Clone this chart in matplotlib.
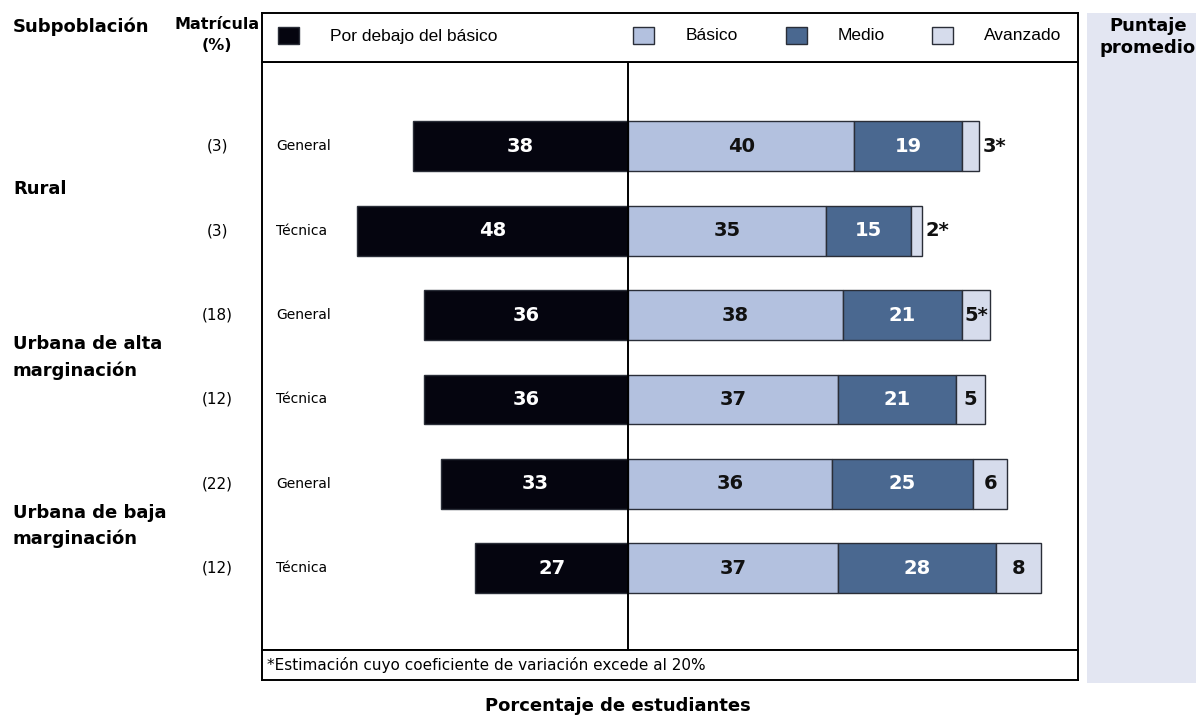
import numpy as np
import matplotlib.pyplot as plt
from matplotlib.patches import Rectangle
from matplotlib.transforms import blended_transform_factory

# Data
tipos = ["General", "Técnica", "General", "Técnica", "General", "Técnica"]
matricula = ["(3)", "(3)", "(18)", "(12)", "(22)", "(12)"]
grupos = ["Rural", "Urbana de alta\nmarginación", "Urbana de baja\nmarginación"]
debajo = [38, 48, 36, 36, 33, 27]
basico = [40, 35, 38, 37, 36, 37]
medio = [19, 15, 21, 21, 25, 28]
avanzado = [3, 2, 5, 5, 6, 8]
avanzado_lbl = ["3*", "2*", "5*", "5", "6", "8"]
puntaje = [485, 464, 495, 494, 507, 520]

c_debajo = "#05050f"
c_basico = "#b3c1df"
c_medio = "#4a6890"
c_avanzado = "#d6dcec"
edge = "#2a2e38"

W, H = 1196, 716
fig = plt.figure(figsize=(W / 100, H / 100), dpi=100)

def fx(x):
    return x / W

def fy(y):
    return 1 - y / H

# right panel background
fig.patches.append(Rectangle((fx(1087), fy(683)), fx(1196) - fx(1087), fy(13) - fy(683),
                             transform=fig.transFigure, facecolor="#e3e6f2", edgecolor="none", zorder=0))

ax = fig.add_axes([fx(262), fy(650), fx(1078) - fx(262), fy(62) - fy(650)])
y = np.arange(len(debajo))
h = 0.59
deb = np.array(debajo)
bas = np.array(basico)
med = np.array(medio)
ava = np.array(avanzado)

ax.barh(y, -deb, height=h, color=c_debajo, edgecolor=edge, linewidth=1)
ax.barh(y, bas, height=h, color=c_basico, edgecolor=edge, linewidth=1)
ax.barh(y, med, left=bas, height=h, color=c_medio, edgecolor=edge, linewidth=1)
ax.barh(y, ava, left=bas + med, height=h, color=c_avanzado, edgecolor=edge, linewidth=1)
ax.axvline(0, color="black", lw=1.4, zorder=5)

lab = dict(fontsize=14, fontweight="bold", va="center", ha="center")
for i in range(len(y)):
    ax.text(-deb[i] / 2, y[i], str(deb[i]), color="white", **lab)
    ax.text(bas[i] / 2, y[i], str(bas[i]), color="#111111", **lab)
    ax.text(bas[i] + med[i] / 2, y[i], str(med[i]), color="white", **lab)
    end = bas[i] + med[i] + ava[i]
    if ava[i] < 4:
        ax.text(end + 0.6, y[i], avanzado_lbl[i], color="#111111", fontsize=14,
                fontweight="bold", va="center", ha="left")
    else:
        ax.text(end - ava[i] / 2, y[i], avanzado_lbl[i], color="#111111", **lab)
    ax.text(-62.2, y[i], tipos[i], fontsize=10, va="center", ha="left")

ax.set_xlim(-64.7, 79.5)
ax.set_ylim(5.97, -1.0)
ax.set_xticks([])
ax.set_yticks([])
for s in ax.spines.values():
    s.set_linewidth(1.4)

# legend box
axl = fig.add_axes([fx(262), fy(62), fx(1078) - fx(262), fy(13) - fy(62)])
axl.set_xlim(262, 1078)
axl.set_ylim(62, 13)
axl.set_xticks([])
axl.set_yticks([])
for s in axl.spines.values():
    s.set_linewidth(1.4)
leg_items = [("Por debajo del básico", c_debajo, 278, 330),
             ("Básico", c_basico, 633, 686),
             ("Medio", c_medio, 786, 838),
             ("Avanzado", c_avanzado, 932, 984)]
for name, col, xs, xt in leg_items:
    axl.add_patch(Rectangle((xs, 27), 21, 17, facecolor=col, edgecolor=edge, lw=1))
    axl.text(xt, 36, name, fontsize=12.5, family="Liberation Sans", va="center", ha="left")

# footnote box
axf = fig.add_axes([fx(262), fy(680), fx(1078) - fx(262), fy(650) - fy(680)])
axf.set_xticks([])
axf.set_yticks([])
for s in axf.spines.values():
    s.set_linewidth(1.4)
axf.text(0.006, 0.5, "*Estimación cuyo coeficiente de variación excede al 20%",
         fontsize=11, va="center", ha="left", transform=axf.transAxes)

# headers
fig.text(fx(13), fy(27), "Subpoblación", fontsize=13, fontweight="bold", va="center", ha="left")
fig.text(fx(217), fy(35), "Matrícula\n(%)", fontsize=11.5, fontweight="bold", va="center",
         ha="center", linespacing=1.55)
fig.text(fx(1148), fy(37), "Puntaje\npromedio", fontsize=13, fontweight="bold", va="center",
         ha="center", linespacing=1.3)
fig.text(fx(618), fy(706), "Porcentaje de estudiantes", fontsize=13, fontweight="bold",
         va="center", ha="center")

# group labels and row values: x in figure fraction, y in bar data
tr = blended_transform_factory(fig.transFigure, ax.transData)
for g, name in enumerate(grupos):
    yc = (y[2 * g] + y[2 * g + 1]) / 2
    ax.text(fx(13), yc, name, fontsize=13, fontweight="bold", va="center", ha="left",
            linespacing=1.55, transform=tr, clip_on=False)
for i in range(len(y)):
    ax.text(fx(217), y[i], matricula[i], fontsize=11, va="center", ha="center",
            transform=tr, clip_on=False)
    ax.text(fx(1148), y[i], str(puntaje[i]), fontsize=14, fontweight="bold", va="center",
            ha="center", transform=tr, clip_on=False)

fig.savefig("out.png", dpi=100)
